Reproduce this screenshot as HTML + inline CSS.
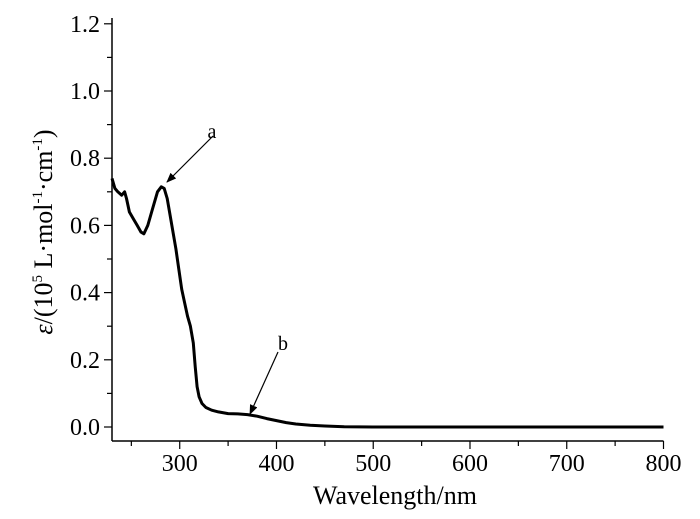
<!DOCTYPE html>
<html><head><meta charset="utf-8"><style>
html,body{margin:0;padding:0;background:#fff;}
svg{display:block;font-family:"Liberation Serif",serif;}
</style></head><body>
<svg id="chart" width="700" height="519">
<defs><marker id="ah" markerWidth="10" markerHeight="8" refX="9" refY="4" orient="auto" markerUnits="userSpaceOnUse"><path d="M0,0 L10,4 L0,8 Z" fill="#000"/></marker></defs>
<g id="axes"></g>
<path id="curve" fill="none" stroke="#000" stroke-width="3" stroke-linejoin="round"/>
<line x1="213" y1="136" x2="167" y2="182" stroke="#000" stroke-width="1.2" marker-end="url(#ah)"/>
<text x="212" y="138" font-size="20" text-anchor="middle">a</text>
<line x1="278" y1="352" x2="250" y2="414" stroke="#000" stroke-width="1.2" marker-end="url(#ah)"/>
<text x="283" y="350" font-size="20" text-anchor="middle">b</text>
<text x="395" y="504" font-size="26" text-anchor="middle">Wavelength/nm</text>
<text transform="translate(52,232) rotate(-90)" font-size="26" text-anchor="middle"><tspan font-style="italic">ε</tspan>/(10<tspan font-size="15" dy="-10">5</tspan><tspan dy="10"> L·mol</tspan><tspan font-size="15" dy="-10">-1</tspan><tspan dy="10">·cm</tspan><tspan font-size="15" dy="-10">-1</tspan><tspan dy="10">)</tspan></text>
</svg>
<script>
const wavelengths=[230,233,236,240,243,245,248,252,256,260,263,267,272,277,281,284,287,290,293,296,299,302,305,308,311,314,316,318,320,323,327,333,340,350,360,370,380,390,400,410,420,435,450,470,500,600,700,800];
const epsilon=[0.74,0.71,0.70,0.69,0.70,0.68,0.64,0.62,0.60,0.58,0.575,0.60,0.65,0.70,0.715,0.71,0.68,0.63,0.58,0.53,0.47,0.41,0.37,0.33,0.30,0.25,0.18,0.12,0.09,0.07,0.058,0.05,0.045,0.04,0.039,0.037,0.032,0.025,0.019,0.013,0.009,0.005,0.003,0.001,0,0,0,0];
const xTicks=[300,400,500,600,700,800];
const yTicks=[0,0.2,0.4,0.6,0.8,1.0,1.2];
const X0=112,X1=663.5,Y0=441,Y1=18;
const sx=v=>X0+(v-230)/(800-230)*(X1-X0);
const sy=v=>427-v/0.2*67.2;
const ns="http://www.w3.org/2000/svg";
const ax=document.getElementById('axes');
function mk(t,a){const e=document.createElementNS(ns,t);for(const k in a)e.setAttribute(k,a[k]);ax.appendChild(e);return e;}
let e=mk('line',{x1:X0,y1:Y0,x2:X1,y2:Y0,stroke:'#000','stroke-width':1.5});


e=mk('line',{x1:X0,y1:Y0,x2:X0,y2:Y1,stroke:'#000','stroke-width':1.5});


for(let v=250;v<=800;v+=50){const major=v%100===0;mk('line',{x1:sx(v),y1:Y0,x2:sx(v),y2:Y0+(major?8:5),stroke:'#000','stroke-width':1.2});}
xTicks.forEach(v=>{const t=mk('text',{x:sx(v),y:471,'font-size':24,'text-anchor':'middle'});t.textContent=v;

});
for(let i=0;i<=12;i++){const v=i*0.1;mk('line',{x1:X0,y1:sy(v),x2:X0-(i%2?5:8),y2:sy(v),stroke:'#000','stroke-width':1.2});}
yTicks.forEach(v=>{const t=mk('text',{x:100,y:sy(v)+8,'font-size':24,'text-anchor':'end'});t.textContent=v.toFixed(1);

});
document.getElementById('curve').setAttribute('d',wavelengths.map((w,i)=>(i?'L':'M')+sx(w).toFixed(1)+','+sy(epsilon[i]).toFixed(1)).join(' '));
</script>
</body></html>
